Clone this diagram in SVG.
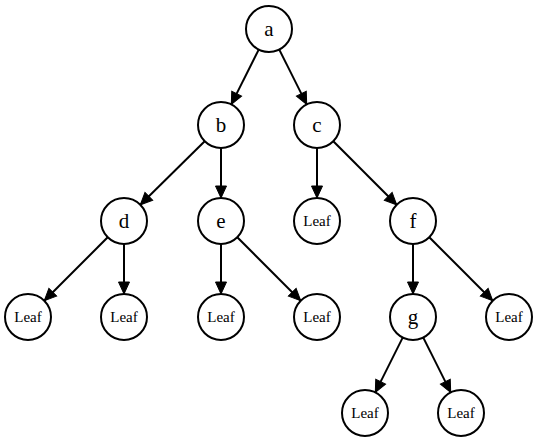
<svg xmlns="http://www.w3.org/2000/svg" width="539" height="443" viewBox="0 0 539 443">
<defs>
<marker id="arr" markerUnits="userSpaceOnUse" markerWidth="14" markerHeight="14" viewBox="0 0 14 14" refX="13" refY="7" orient="auto">
<path d="M1,1.5 L13,7 L1,12.5 z" fill="#000" stroke="#000" stroke-width="1"/>
</marker>
<style>
.n circle{fill:#fff;stroke:#000;stroke-width:2}
.n text{font-family:"Liberation Serif","Times New Roman",serif;fill:#000;text-anchor:middle;dominant-baseline:central}
.big{font-size:21px}
.leaf{font-size:15px}
#edges line{stroke:#000;stroke-width:2;marker-end:url(#arr)}
</style>
</defs>
<rect width="539" height="443" fill="#fff"/>
<g id="edges">
<line x1="258.7" y1="49.6" x2="231.3" y2="104.4"/>
<line x1="279.3" y1="49.6" x2="306.7" y2="104.4"/>
<line x1="204.7" y1="141.2" x2="140.3" y2="204.8"/>
<line x1="221" y1="148" x2="221" y2="198"/>
<line x1="317" y1="148" x2="317" y2="198"/>
<line x1="333.3" y1="141.2" x2="396.7" y2="204.8"/>
<line x1="107.7" y1="237.3" x2="44.3" y2="300.7"/>
<line x1="124" y1="244" x2="124" y2="294"/>
<line x1="221" y1="244" x2="221" y2="294"/>
<line x1="237.3" y1="237.3" x2="300.7" y2="300.7"/>
<line x1="413" y1="244" x2="413" y2="294"/>
<line x1="429.3" y1="237.3" x2="492.7" y2="300.7"/>
<line x1="402.7" y1="337.6" x2="375.3" y2="392.4"/>
<line x1="423.3" y1="337.6" x2="450.7" y2="392.4"/>
</g>
<g id="a" class="n"><circle cx="269" cy="29" r="23"/><text class="big" x="269" y="29">a</text></g>
<g id="b" class="n"><circle cx="221" cy="125" r="23"/><text class="big" x="221" y="125">b</text></g>
<g id="c" class="n"><circle cx="317" cy="125" r="23"/><text class="big" x="317" y="125">c</text></g>
<g id="d" class="n"><circle cx="124" cy="221" r="23"/><text class="big" x="124" y="221">d</text></g>
<g id="e" class="n"><circle cx="221" cy="221" r="23"/><text class="big" x="221" y="221">e</text></g>
<g id="leaf_c" class="n"><circle cx="317" cy="221" r="23"/><text class="leaf" x="317" y="221">Leaf</text></g>
<g id="f" class="n"><circle cx="413" cy="221" r="23"/><text class="big" x="413" y="221">f</text></g>
<g id="leaf_d1" class="n"><circle cx="28" cy="317" r="23"/><text class="leaf" x="28" y="317">Leaf</text></g>
<g id="leaf_d2" class="n"><circle cx="124" cy="317" r="23"/><text class="leaf" x="124" y="317">Leaf</text></g>
<g id="leaf_e1" class="n"><circle cx="221" cy="317" r="23"/><text class="leaf" x="221" y="317">Leaf</text></g>
<g id="leaf_e2" class="n"><circle cx="317" cy="317" r="23"/><text class="leaf" x="317" y="317">Leaf</text></g>
<g id="g" class="n"><circle cx="413" cy="317" r="23"/><text class="big" x="413" y="317">g</text></g>
<g id="leaf_f" class="n"><circle cx="509" cy="317" r="23"/><text class="leaf" x="509" y="317">Leaf</text></g>
<g id="leaf_g1" class="n"><circle cx="365" cy="413" r="23"/><text class="leaf" x="365" y="413">Leaf</text></g>
<g id="leaf_g2" class="n"><circle cx="461" cy="413" r="23"/><text class="leaf" x="461" y="413">Leaf</text></g>
</svg>
